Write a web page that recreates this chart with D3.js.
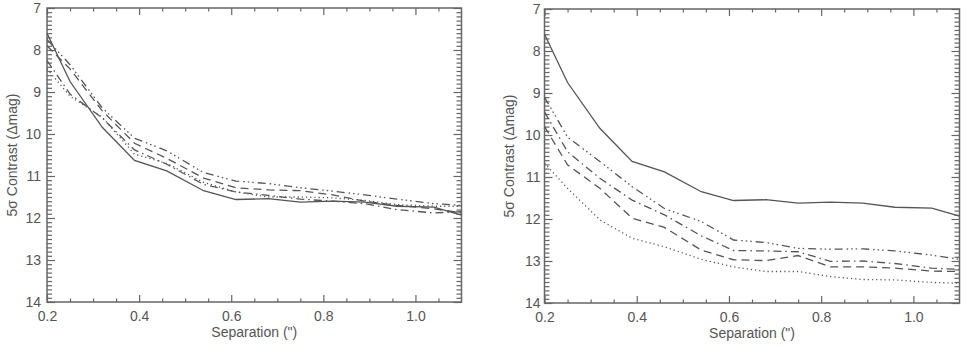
<!DOCTYPE html>
<meta charset="utf-8">
<html>
  <style>
    body { margin: 0; background: #fff; }
    .line { fill: none; stroke: #555; stroke-width: 1.3px; }
    .tick line { stroke: #666; stroke-width: 1.2px; }
    .tick text { fill: #555; font-family: "Liberation Sans", Arial, sans-serif; font-size: 14px; }
    .frame { fill: none; stroke: #666; stroke-width: 1.5px; }
    .title { fill: #555; font-family: "Liberation Sans", Arial, sans-serif; font-size: 14px; }
  </style>
  <head>
    <script src="https://d3js.org/d3.v7.min.js"></script>
  </head>
  <body>
    <script>
      // sample separations (arcsec)
      var separation = [0.2, 0.25, 0.32, 0.39, 0.46, 0.54, 0.61, 0.68, 0.75, 0.82, 0.89, 0.96, 1.04, 1.1];

      // reference curve, same in both panels
      var refSolid = [7.6, 8.75, 9.84, 10.63, 10.88, 11.35, 11.56, 11.54, 11.62, 11.6, 11.62, 11.72, 11.74, 11.93];

      // left panel
      var leftDash3   = [7.75, 8.35, 9.38, 10.1, 10.4, 10.92, 11.12, 11.18, 11.28, 11.36, 11.45, 11.55, 11.66, 11.7];
      var leftDashed  = [7.9, 8.45, 9.45, 10.22, 10.58, 11.05, 11.28, 11.33, 11.35, 11.45, 11.6, 11.7, 11.78, 11.88];
      var leftDashDot = [8.25, 9.05, 9.62, 10.38, 10.72, 11.2, 11.38, 11.46, 11.55, 11.6, 11.66, 11.8, 11.88, 11.85];
      var leftDotted  = [8.45, 9.1, 9.6, 10.48, 10.7, 11.15, 11.38, 11.5, 11.5, 11.52, 11.58, 11.68, 11.72, 11.72];

      // right panel
      var rightDash3   = [9.1, 10.05, 10.63, 11.23, 11.75, 12.06, 12.5, 12.56, 12.7, 12.72, 12.71, 12.76, 12.86, 12.96];
      var rightDashDot = [9.45, 10.4, 11.03, 11.55, 11.9, 12.4, 12.75, 12.76, 12.78, 13.01, 13.0, 13.06, 13.17, 13.2];
      var rightDashed  = [9.8, 10.71, 11.27, 11.98, 12.2, 12.74, 12.97, 12.99, 12.87, 13.14, 13.14, 13.17, 13.24, 13.25];
      var rightDotted  = [10.67, 11.27, 12.02, 12.46, 12.66, 12.96, 13.14, 13.25, 13.25, 13.37, 13.44, 13.45, 13.51, 13.53];

      // tick values
      var xMajor = [0.2, 0.4, 0.6, 0.8, 1.0];
      var xLabels = ["0.2", "0.4", "0.6", "0.8", "1.0"];
      var yMajor = [7, 8, 9, 10, 11, 12, 13, 14];

      var dashes = {
        solid: null,
        dotted: "1.2,3",
        dashed: "8,5",
        dashdot: "8,4,1.5,4",
        dash3: "8,4,1.5,3,1.5,3,1.5,4"
      };

      var svg = d3.select("body").append("svg")
          .attr("width", 970)
          .attr("height", 347);

      function drawPanel(id, box, series) {
        var w = box.right - box.left, h = box.bottom - box.top;
        var g = svg.append("g").attr("transform", "translate(" + box.left + "," + box.top + ")");

        var x = d3.scaleLinear().domain([0.2, 1.1]).range([0, w]);
        var y = d3.scaleLinear().domain([7, 14]).range([0, h]);

        var xMinor = d3.range(0.25, 1.1, 0.05).filter(function(v) {
          return Math.abs(v * 10 - Math.round(v * 10)) > 0.01 || Math.round(v * 10) % 2 == 1;
        });
        var yMinor = d3.range(7.1, 14, 0.1).filter(function(v) {
          return Math.abs(v - Math.round(v)) > 0.01;
        });

        // minor ticks all round
        g.append("g").attr("transform", "translate(0," + h + ")")
         .call(d3.axisBottom(x).tickValues(xMinor).tickSize(-3.5).tickFormat(""));
        g.append("g").call(d3.axisTop(x).tickValues(xMinor).tickSize(-3.5).tickFormat(""));
        g.append("g").call(d3.axisLeft(y).tickValues(yMinor).tickSize(-5).tickFormat(""));
        g.append("g").attr("transform", "translate(" + w + ",0)")
         .call(d3.axisRight(y).tickValues(yMinor).tickSize(-5).tickFormat(""));

        // major ticks
        g.append("g").attr("transform", "translate(0," + h + ")")
         .call(d3.axisBottom(x).tickValues(xMajor).tickSize(-7).tickPadding(9)
                 .tickFormat(function(d, i) { return xLabels[i]; }));
        g.append("g").call(d3.axisTop(x).tickValues(xMajor).tickSize(-7).tickFormat(""));
        g.append("g").call(d3.axisLeft(y).tickValues(yMajor).tickSize(-8).tickPadding(box.labelPad)
                 .tickFormat(d3.format("d")));
        g.append("g").attr("transform", "translate(" + w + ",0)")
         .call(d3.axisRight(y).tickValues(yMajor).tickSize(-8).tickFormat(""));

        g.selectAll(".domain").remove();

        g.append("rect").attr("class", "frame")
         .attr("width", w).attr("height", h);

        g.append("clipPath").attr("id", id)
         .append("rect").attr("width", w).attr("height", h);

        var line = d3.line()
                     .x(function(d, i) { return x(separation[i]); })
                     .y(function(d) { return y(d); });

        series.forEach(function(s) {
          g.append("path").datum(s.values)
           .attr("class", "line")
           .attr("clip-path", "url(#" + id + ")")
           .attr("stroke-dasharray", dashes[s.style])
           .attr("d", line);
        });

        // axis titles
        g.append("text").attr("class", "title")
         .attr("text-anchor", "middle")
         .attr("x", w / 2).attr("y", h + 35)
         .text("Separation (\")");
        g.append("text").attr("class", "title")
         .attr("text-anchor", "middle")
         .attr("transform", "translate(" + box.titleX + "," + (h / 2) + ")rotate(-90)")
         .text("5\u03c3 Contrast (\u0394mag)");
      }

      drawPanel("clipL", {left: 47, right: 461.5, top: 8, bottom: 302, labelPad: 6, titleX: -30}, [
        {values: refSolid, style: "solid"},
        {values: leftDash3, style: "dash3"},
        {values: leftDashed, style: "dashed"},
        {values: leftDashDot, style: "dashdot"},
        {values: leftDotted, style: "dotted"}
      ]);

      drawPanel("clipR", {left: 544.5, right: 959.5, top: 9, bottom: 303, labelPad: 4, titleX: -31}, [
        {values: refSolid, style: "solid"},
        {values: rightDash3, style: "dash3"},
        {values: rightDashDot, style: "dashdot"},
        {values: rightDashed, style: "dashed"},
        {values: rightDotted, style: "dotted"}
      ]);
    </script>
  </body>
</html>
